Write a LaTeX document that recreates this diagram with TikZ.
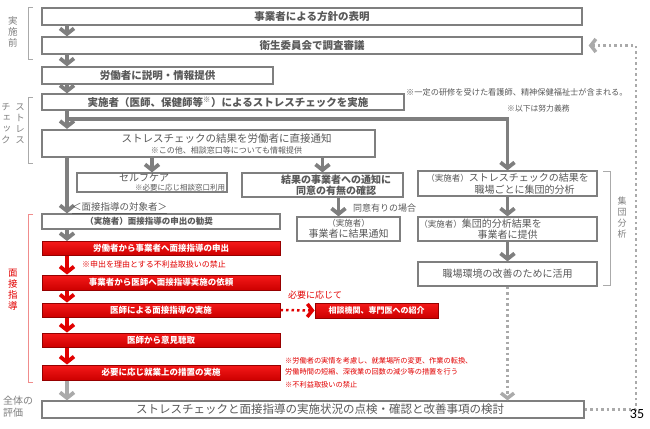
\documentclass[tikz,border=0pt]{standalone}
\usepackage{fontspec}
\setmainfont{Noto Sans CJK JP}
\newfontfamily\pagefont{Carlito}
\usetikzlibrary{arrows.meta}

\definecolor{boxgray}{RGB}{127,127,127}
\definecolor{textgray}{RGB}{89,89,89}
\definecolor{dotgray}{RGB}{170,170,170}
\definecolor{redtop}{RGB}{245,25,25}
\definecolor{redbottom}{RGB}{205,0,0}
\definecolor{darkred}{RGB}{150,0,0}
\definecolor{notered}{RGB}{225,0,0}
\definecolor{bracketred}{RGB}{240,140,140}

\newcommand{\fsz}[2]{\fontsize{#1}{#2}\selectfont}
\newcommand{\vtext}{\addfontfeature{RawFeature=+vert}}

\tikzset{
  box/.style={draw=boxgray, line width=1.3pt, fill=white, text=textgray, inner sep=0pt, align=center, font=\fsz{10.5}{12}\bfseries},
  plainbox/.style={box, font=\fsz{10}{11.5}},
  redbox/.style={draw=darkred, line width=1pt, top color=redtop, bottom color=redbottom, text=white, inner sep=0pt, align=center, font=\fsz{8.5}{10}\bfseries},
  garrow/.style={draw=boxgray, line width=3.8pt, -{Straight Barb[length=5.5pt,width=14pt]}},
  larrow/.style={garrow, draw=dotgray},
  rarrow/.style={garrow, draw=notered},
  gdots/.style={draw=dotgray, line width=2.5pt, dash pattern=on 2.5pt off 3pt, -{Straight Barb[length=5pt,width=13pt,line width=3.5pt]}},
  rdots/.style={gdots, draw=notered},
  note/.style={anchor=west, inner sep=0pt, text=textgray, font=\fsz{8}{9.5}},
  rednote/.style={note, text=notered, font=\fsz{7.2}{8.5}},
  sidelabel/.style={inner sep=0pt, align=center, text=boxgray, font=\fsz{9.5}{11}\vtext},
  bracket/.style={draw=dotgray, line width=0.8pt},
}

\begin{document}
\begin{tikzpicture}[x=1pt, y=-1pt]
	\useasboundingbox (0,0) rectangle (650,428);
	
	\begin{scope}[every node/.style={box}]
	\node[minimum width=540, minimum height=17] (node 1) at (312,16.5) {事業者による方針の表明};
	\node[minimum width=540, minimum height=17] (node 2) at (312,45.5) {衛生委員会で調査審議};
	\node[minimum width=231, minimum height=17] (node 3) at (157.5,75.5) {労働者に説明・情報提供};
	\node[minimum width=362, minimum height=16] (node 4) at (223,102) {\hspace*{10pt}実施者（医師、保健師等\textsuperscript{※}）によるストレスチェックを実施};
	\node[line width=2.2pt, minimum width=333, minimum height=27] (node 5) at (208.5,143.5) {\mdseries\hspace*{36pt}ストレスチェックの結果を労働者に直接通知\\[-1pt]{\mdseries\fsz{8}{9}\hspace*{36pt}※この他、相談窓口等についても情報提供}};
	\node[plainbox, minimum width=150, minimum height=19] (node 6) at (152,182.5) {セルフケア\hspace*{16pt}\\[-2pt]{\fsz{7.5}{8.5}\hspace*{56pt}※必要に応じ相談窓口利用}};
	\node[minimum width=161, minimum height=24, font=\fsz{10}{11.5}\bfseries] (node 7) at (322.5,185) {\hspace*{27pt}結果の事業者への通知に\\\hspace*{27pt}同意の有無の確認};
	\node[plainbox, minimum width=103, minimum height=24] (node 8) at (348.5,229) {{\fsz{8.5}{10}（実施者）}\\事業者に結果通知};
	\node[minimum width=238, minimum height=15, font=\fsz{8.5}{10}\bfseries] (node 9) at (161,221.5) {（実施者）面接指導の申出の勧奨\hspace*{24pt}};
	\node[plainbox, minimum width=179, minimum height=25] (node 16) at (507.5,183.5) {{\fsz{8.5}{10}（実施者）}ストレスチェックの結果を\\\hspace*{34pt}職場ごとに集団的分析};
	\node[plainbox, minimum width=179, minimum height=24] (node 17) at (507.5,229) {{\fsz{8.5}{10}（実施者）}集団的分析結果を\hspace*{54pt}\\事業者に提供};
	\node[plainbox, minimum width=179, minimum height=24] (node 18) at (507.5,274) {職場環境の改善のために活用};
	\node[plainbox, minimum width=542, minimum height=17, font=\fsz{11.5}{13}] (node 19) at (313,409.5) {\hspace*{14pt}ストレスチェックと面接指導の実施状況の点検・確認と改善事項の検討};
	\end{scope}
	
	\begin{scope}[every node/.style={redbox, minimum width=238, minimum height=14}]
	\node (node 10) at (161,248.5) {労働者から事業者へ面接指導の申出};
	\node[minimum height=15] (node 11) at (161,282.5) {事業者から医師へ面接指導実施の依頼};
	\node (node 12) at (161,310) {医師による面接指導の実施};
	\node (node 13) at (161,340) {医師から意見聴取};
	\node[minimum height=15] (node 14) at (161,372.5) {必要に応じ就業上の措置の実施};
	\node[minimum width=123, minimum height=15, font=\fsz{8}{9.5}\bfseries] (node 15) at (376.5,310.5) {相談機関、専門医への紹介};
	\end{scope}
	
	\begin{scope}
	\coordinate (stem) at (67,0);
	\coordinate (branch) at (67,119);
	\coordinate (loop) at (636,45.5);
	\draw[garrow] (node 1.south -| stem) -- (node 2.north -| stem);
	\draw[garrow] (node 2.south -| stem) -- (node 3.north -| stem);
	\draw[garrow] (node 3.south -| stem) -- (node 4.north -| stem);
	\draw[garrow] (node 4.south -| stem) -- (node 5.north -| stem);
	\draw[garrow] (branch) -| (node 16.north);
	\draw[garrow] (node 5.south -| stem) -- (node 9.north -| stem);
	\draw[garrow] (node 5.south -| node 6.north) -- (node 6.north);
	\draw[garrow] (node 5.south -| node 7.north) -- (node 7.north);
	\draw[garrow] ([xshift=-10pt]node 8.north |- node 7.south) -- ([xshift=-10pt]node 8.north);
	\draw[garrow] (node 9.south -| stem) -- (node 10.north -| stem);
	\draw[rarrow] (node 10.south -| stem) -- (node 11.north -| stem);
	\draw[rarrow] (node 11.south -| stem) -- (node 12.north -| stem);
	\draw[rarrow] (node 12.south -| stem) -- (node 13.north -| stem);
	\draw[rarrow] (node 13.south -| stem) -- (node 14.north -| stem);
	\draw[larrow] (node 14.south -| stem) -- (node 19.north -| stem);
	\draw[rdots] (node 12.east) -- (node 15.west);
	\draw[garrow] (node 16.south) -- (node 17.north);
	\draw[garrow] (node 17.south) -- (node 18.north);
	\draw[gdots] (node 18.south) -- (node 18.south |- node 19.north);
	\draw[gdots] (node 19.east) -| (loop) -- ([xshift=6pt]node 2.east);
	\end{scope}
	
	\node[note, font=\fsz{8.2}{9.5}] (note 1) at (406,92) {※一定の研修を受けた看護師、精神保健福祉士が含まれる。};
	\node[note, font=\fsz{7.8}{9}] (note 2) at (507,109) {※以下は努力義務};
	\node[note, font=\fsz{9.5}{11}] (target) at (72,208) {\underline{＜面接指導の対象者＞}};
	\node[note, font=\fsz{9}{10.5}] (consent) at (353,208) {同意有りの場合};
	\node[rednote, font=\fsz{8}{9.5}] (note 3) at (82,264) {※申出を理由とする不利益取扱いの禁止};
	\node[rednote, font=\fsz{9}{10.5}] (as needed) at (288,295) {必要に応じて};
	\node[rednote] (note 4) at (285,361) {※労働者の実情を考慮し、就業場所の変更、作業の転換、};
	\node[rednote] (note 5) at (285,372) {労働時間の短縮、深夜業の回数の減少等の措置を行う};
	\node[rednote] (note 6) at (285,385) {※不利益取扱いの禁止};
	
	\node[sidelabel] (before) at (13,32) {実\\施\\前};
	\node[sidelabel] (stress a) at (20,124) {ス\\ト\\レ\\ス};
	\node[sidelabel] (stress b) at (6,124) {チ\\ェ\\ッ\\ク};
	\node[sidelabel, text=notered] (interview) at (13,290) {面\\接\\指\\導};
	\node[sidelabel, font=\fsz{9}{11}\vtext] (group) at (622,218) {集\\団\\分\\析};
	\node[note, align=left, text=boxgray, font=\fsz{10}{12}] (overall) at (3,407) {全体の\\評価};
	\node[inner sep=0pt, font=\pagefont\fsz{14}{14}] (page) at (637,414) {35};
	
	\draw[bracket] (33,7) -- (28,7) -- (28,59) -- (33,59);
	\draw[bracket] (33,97) -- (28,97) -- (28,163) -- (33,163);
	\draw[bracket, draw=bracketred] (33,214) -- (28,214) -- (28,382) -- (33,382);
	\draw[bracket] (603,171) -- (610,171) -- (610,285) -- (603,285);
	
\end{tikzpicture}
\end{document}
